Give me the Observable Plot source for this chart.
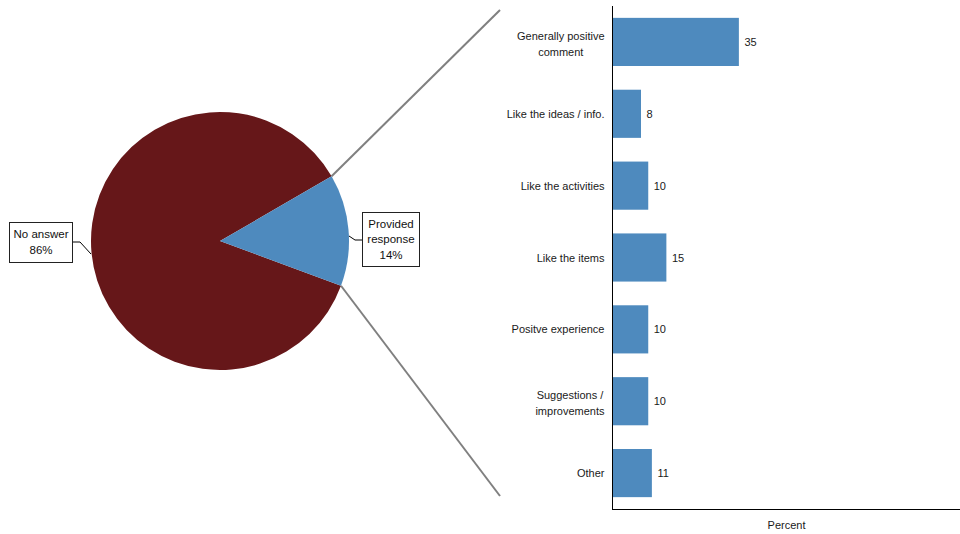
<!DOCTYPE html>
<html>
<head>
<meta charset="utf-8">
<script src="https://cdn.jsdelivr.net/npm/d3@7"></script>
<script src="https://cdn.jsdelivr.net/npm/@observablehq/plot@0.6"></script>
<style>
  html, body { margin: 0; padding: 0; background: #fff; }
  #chart { width: 960px; height: 534px; }
  svg { font-family: "Liberation Sans", Arial, sans-serif; }
</style>
</head>
<body>
<div id="chart"></div>
<script>
// ---- data ----
const categories = [
  "Generally positive\ncomment",
  "Like the ideas / info.",
  "Like the activities",
  "Like the items",
  "Positve experience",
  "Suggestions /\nimprovements",
  "Other"
];
const percents = [35, 8, 10, 15, 10, 10, 11];
const pieLabels = ["No answer", "Provided response"];
const pieValues = [86, 14];
const pieLabelText = ["No answer\n86%", "Provided\nresponse\n14%"];

const bars = categories.map((c, i) => ({category: c, value: percents[i]}));

// ---- style ----
const BLUE = "#4e8abe";
const RED = "#661719";
const FONT = "Liberation Sans, Arial, sans-serif";

// measure text for label alignment
const ctx = document.createElement("canvas").getContext("2d");
ctx.font = "11px " + FONT;
const blockWidth = s => Math.max(...s.split("\n").map(l => ctx.measureText(l).width));

const singleLine = bars.filter(d => !d.category.includes("\n"));
const multiLine = bars.filter(d => d.category.includes("\n"));

const plot = Plot.plot({
  width: 960,
  height: 534,
  marginLeft: 612,
  marginRight: 0,
  marginTop: 6,
  marginBottom: 25,
  style: {fontFamily: FONT, fontSize: "11px", color: "#222", background: "white"},
  x: {domain: [0, 96], axis: null},
  y: {domain: categories, paddingInner: 0.33, paddingOuter: 0.165, round: false, axis: null},
  marks: [
    Plot.barX(bars, {x: "value", y: "category", fill: BLUE}),
    Plot.text(bars, {x: "value", y: "category", text: d => String(d.value), textAnchor: "start", dx: 5, fill: "#1a1a1a", fontSize: 11}),
    Plot.text(singleLine, {x: 0, y: "category", text: "category", fill: "#1a1a1a", fontSize: 11, textAnchor: "end", dx: -8}),
    ...multiLine.map(d => Plot.text([d], {
      x: 0, y: "category", text: "category", fill: "#1a1a1a", fontSize: 11,
      textAnchor: "middle", lineHeight: 1.45, dx: -(8 + blockWidth(d.category) / 2)
    })),
    Plot.ruleX([0], {stroke: "#000", strokeWidth: 1}),
    Plot.frame({anchor: "bottom", stroke: "#000", strokeWidth: 1}),
    Plot.text(["Percent"], {frameAnchor: "bottom", dy: 19, fill: "#1a1a1a", fontSize: 11})
  ]
});

// ---- pie drawn into the same svg with d3 ----
const svg = d3.select(plot);
const cx = 220, cy = 241, r = 129;
const deg = Math.PI / 180;
const pie = d3.pie().sort(null).value(d => d)
  .startAngle(110.3 * deg).endAngle(110.3 * deg + 2 * Math.PI);
const arcs = pie(pieValues);
const arc = d3.arc().innerRadius(0).outerRadius(r);
const pg = svg.append("g").attr("transform", `translate(${cx},${cy})`);

// connector lines from the blue slice edges to the bar panel
const blue = arcs[1];
const pt = a => [Math.sin(a) * r, -Math.cos(a) * r];
const [ux, uy] = pt(blue.startAngle);
const [lx, ly] = pt(blue.endAngle);
pg.append("line").attr("x1", ux).attr("y1", uy).attr("x2", 500 - cx).attr("y2", 10 - cy)
  .attr("stroke", "#808080").attr("stroke-width", 2);
pg.append("line").attr("x1", lx).attr("y1", ly).attr("x2", 500 - cx).attr("y2", 496 - cy)
  .attr("stroke", "#808080").attr("stroke-width", 2);

pg.selectAll("path.slice").data(arcs).join("path")
  .attr("d", arc)
  .attr("fill", (d, i) => i === 0 ? RED : BLUE);

// labels with boxes and leader lines
const labelSpecs = [
  {box: [9, 222, 63, 40], leader: [[72, 242], [80, 242], [91, 254]]},
  {box: [362, 212, 57, 54], leader: [[349, 236], [355, 240], [362, 240]]}
];
labelSpecs.forEach((s, i) => {
  const [bx, by, bw, bh] = s.box;
  svg.append("path")
    .attr("d", d3.line()(s.leader))
    .attr("fill", "none").attr("stroke", "#000").attr("stroke-width", 1);
  svg.append("rect").attr("x", bx + 0.5).attr("y", by + 0.5).attr("width", bw).attr("height", bh)
    .attr("fill", "#fff").attr("stroke", "#222").attr("stroke-width", 1);
  const lines = pieLabelText[i].split("\n");
  const lh = 15.5;
  const t = svg.append("text")
    .attr("text-anchor", "middle")
    .attr("font-family", FONT).attr("font-size", 11.5).attr("fill", "#111");
  lines.forEach((l, j) => {
    t.append("tspan")
      .attr("x", bx + bw / 2 + 0.5)
      .attr("y", by + bh / 2 + (j - (lines.length - 1) / 2) * lh + 4)
      .text(l);
  });
});

document.getElementById("chart").appendChild(plot);
</script>
</body>
</html>
